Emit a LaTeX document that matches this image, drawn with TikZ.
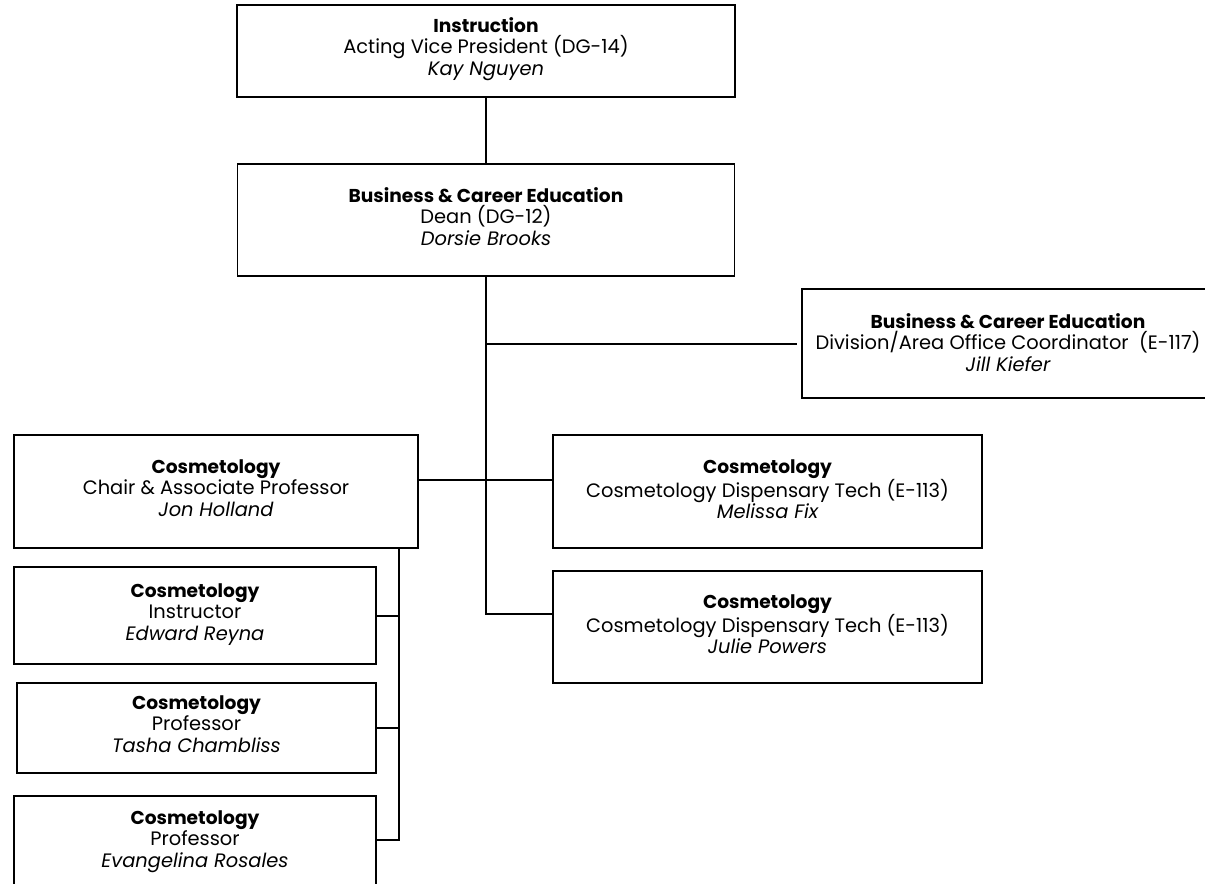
\documentclass[tikz,border=0pt]{standalone}
\usepackage{fontspec}
\setmainfont{Poppins}
\newcommand\hd[1]{{\fontsize{18.7}{21.7}\selectfont\bfseries #1}}
\newcommand\nm[1]{{\itshape #1}}
\begin{document}
\begin{tikzpicture}[x=1bp,y=-1bp,
  box/.style={draw, line width=1.9bp, rectangle, inner sep=0pt},
  txt/.style={anchor=north, inner sep=0pt, align=center,
    font=\fontsize{19.5}{21.7}\selectfont},
  conn/.style={line width=2bp}]
\useasboundingbox (0,0) rectangle (1205,884);
\clip (0,0) rectangle (1205,884);
% boxes
\node[box, minimum width=498bp, minimum height=92bp] (ins) at (486,51) {};
\node[box, minimum width=497bp, minimum height=112bp] (dean) at (486,220) {};
\node[box, minimum width=412bp, minimum height=109bp] (jill) at (1008,343.5) {};
\node[box, minimum width=404bp, minimum height=113bp] (jon) at (216,491.5) {};
\node[box, minimum width=429bp, minimum height=113bp] (mel) at (767.5,491.5) {};
\node[box, minimum width=429bp, minimum height=112bp] (jul) at (767.5,627) {};
\node[box, minimum width=362bp, minimum height=97bp] (edw) at (195,615.5) {};
\node[box, minimum width=359bp, minimum height=90bp] (tas) at (196.5,728) {};
\node[box, minimum width=362bp, minimum height=94bp] (eva) at (195,843) {};
% texts
\node[txt] (insT) at ([yshift=-13bp]ins.north)
  {\hd{Instruction}\\Acting Vice President (DG-14)\\\nm{Kay Nguyen}};
\node[txt] (deanT) at ([yshift=-24bp]dean.north)
  {\hd{Business \& Career Education}\\Dean (DG-12)\\\nm{Dorsie Brooks}};
\node[txt] (jillT) at ([yshift=-25bp]jill.north)
  {\hd{Business \& Career Education}\\Division/Area Office Coordinator\ \ (E-117)\\\nm{Jill Kiefer}};
\node[txt] (jonT) at ([yshift=-25bp]jon.north)
  {\hd{Cosmetology}\\Chair \& Associate Professor\\\nm{Jon Holland}};
\node[txt] (melT) at ([yshift=-25bp]mel.north)
  {\hd{Cosmetology}\\Cosmetology Dispensary Tech (E-113)\\\nm{Melissa Fix}};
\node[txt] (julT) at ([yshift=-24bp]jul.north)
  {\hd{Cosmetology}\\Cosmetology Dispensary Tech (E-113)\\\nm{Julie Powers}};
\node[txt] (edwT) at ([yshift=-17bp]edw.north)
  {\hd{Cosmetology}\\Instructor\\\nm{Edward Reyna}};
\node[txt] (tasT) at ([yshift=-13bp]tas.north)
  {\hd{Cosmetology}\\Professor\\\nm{Tasha Chambliss}};
\node[txt] (evaT) at ([yshift=-15bp]eva.north)
  {\hd{Cosmetology}\\Professor\\\nm{Evangelina Rosales}};
% connectors
\draw[conn] (ins.south) -- (dean.north);
\draw[conn] (dean.south) |- ([yshift=13bp]jul.west);
\draw[conn, shorten >=4bp] (dean.south |- jill.west) -- (jill.west);
\draw[conn] ([yshift=11.5bp]jon.east) -- ([yshift=11.5bp]mel.west);
\coordinate (jb) at ([xshift=-20bp]jon.south east);
\draw[conn] (jb) |- ([yshift=3bp]eva.east);
\draw[conn] (edw.east) -- (edw.east -| jb);
\draw[conn] (tas.east) -- (tas.east -| jb);
\end{tikzpicture}
\end{document}
